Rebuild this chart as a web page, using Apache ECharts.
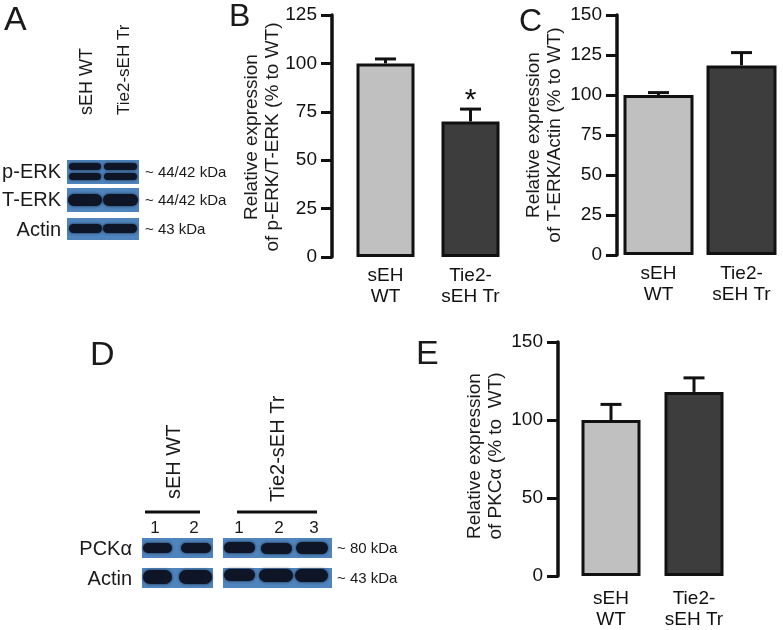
<!DOCTYPE html>
<html><head><meta charset="utf-8">
<script src="https://cdn.jsdelivr.net/npm/echarts@6/dist/echarts.min.js"></script>
<style>html,body{margin:0;padding:0;background:#fff}#c{width:783px;height:630px}</style>
</head><body><div id="c"></div>
<script>
// ---- data ----
const categories = ['sEH\nWT', 'Tie2-\nsEH Tr'];
const pErkMean = [100, 70];
const pErkErr = [2.3, 6.4];
const tErkMean = [100, 118.5];
const tErkErr = [1.5, 8];
const pkcMean = [100, 118];
const pkcErr = [10, 9];
const ticksB = [0, 25, 50, 75, 100, 125];
const ticksC = [0, 25, 50, 75, 100, 125, 150];
const ticksE = [0, 50, 100, 150];
const barColors = ['#c0c0c0', '#3d3d3d'];

const FONT = '"Liberation Sans", Arial, sans-serif';
const chart = echarts.init(document.getElementById('c'), null, {renderer: 'canvas'});

function yAxisCfg(idx, ticks, offset) {
  return {
    type: 'value', gridIndex: idx, min: ticks[0], max: ticks[ticks.length - 1],
    interval: ticks[1] - ticks[0], offset: offset,
    axisLine: {show: true, lineStyle: {color: '#111', width: 3.5}},
    axisTick: {show: true, length: 11, lineStyle: {color: '#111', width: 3}},
    axisLabel: {fontFamily: FONT, fontSize: 19, color: '#111', margin: 15},
    splitLine: {show: false}
  };
}
function xAxisCfg(idx, margin) {
  return {
    type: 'category', gridIndex: idx, data: categories,
    axisLine: {show: false}, axisTick: {show: false},
    axisLabel: {fontFamily: FONT, fontSize: 19, color: '#111', lineHeight: 21, margin: margin, interval: 0}
  };
}
function barSeries(idx, vals, bw) {
  return {
    type: 'bar', xAxisIndex: idx, yAxisIndex: idx, barWidth: bw,
    data: vals.map((v, i) => ({value: v, itemStyle: {color: barColors[i]}})),
    itemStyle: {borderColor: '#111', borderWidth: 3},
    silent: true
  };
}
function errSeries(idx, means, errs, star) {
  return {
    type: 'custom', xAxisIndex: idx, yAxisIndex: idx, z: 5, silent: true,
    data: means.map((m, i) => [i, m, errs[i], star ? star[i] : '']),
    renderItem: function (params, api) {
      const p0 = api.coord([api.value(0), api.value(1)]);
      const p1 = api.coord([api.value(0), api.value(1) + api.value(2)]);
      const st = {stroke: '#111', lineWidth: 3};
      const children = [
        {type: 'line', shape: {x1: p0[0], y1: p0[1], x2: p1[0], y2: p1[1]}, style: st},
        {type: 'line', shape: {x1: p1[0] - 10.5, y1: p1[1], x2: p1[0] + 10.5, y2: p1[1]}, style: st}
      ];
      const s = api.value(3);
      if (s) {
        children.push({type: 'text', x: p1[0], y: p1[1] + 7,
          style: {text: s, fontFamily: FONT, fontSize: 30, fill: '#111', align: 'center', verticalAlign: 'bottom'}});
      }
      return {type: 'group', children: children};
    }
  };
}

// ---- blot helpers (illustration) ----
const BLOT = '#4f84bd';
const BAND = '#0e1526';
const g = [];
function box(x, y, w, h) { g.push({type: 'rect', shape: {x: x, y: y, width: w, height: h}, style: {fill: BLOT}, z: 1}); }
function band(x, y, w, h) {
  g.push({type: 'rect', shape: {x: x, y: y, width: w, height: h, r: h / 2},
    style: {fill: BAND, shadowBlur: 3, shadowColor: 'rgba(10,15,30,0.8)'}, z: 2});
}
function txt(text, x, y, size, align, opts) {
  g.push(Object.assign({type: 'text', x: x, y: y, z: 3,
    style: {text: text, fontFamily: FONT, fontSize: size, fill: '#1a1a1a', align: align || 'left', verticalAlign: 'middle'}}, opts || {}));
}
function vtxt(text, x, yBottom, size) {
  g.push({type: 'text', x: x, y: yBottom, rotation: Math.PI / 2, z: 3,
    style: {text: text, fontFamily: FONT, fontSize: size, fill: '#1a1a1a', align: 'left', verticalAlign: 'middle'}});
}
function title2(l1, l2, cx, cy) {
  g.push({type: 'text', x: cx, y: cy, rotation: Math.PI / 2, z: 3,
    style: {text: l1 + '\n' + l2, fontFamily: FONT, fontSize: 19, lineHeight: 21, fill: '#1a1a1a', align: 'center', verticalAlign: 'middle'}});
}

// Panel letters
txt('A', 4, 21, 34);
txt('B', 229, 17, 32);
txt('C', 519, 22, 32);
txt('D', 90, 356, 34);
txt('E', 416, 355, 34);

// Panel A blot
vtxt('sEH WT', 87, 115, 18);
vtxt('Tie2-sEH Tr', 124, 115, 17);
box(67, 160, 72, 24); box(67, 188, 72, 24); box(67, 218, 72, 22);
band(69, 163, 32, 7); band(104, 163, 33, 7);
band(69, 173, 32, 7); band(104, 173, 33, 7);
band(68, 194, 34, 12); band(103, 194, 35, 12);
band(69, 224, 33, 9); band(103, 224, 34, 9);
txt('p-ERK', 61, 172, 20, 'right');
txt('T-ERK', 61, 200, 20, 'right');
txt('Actin', 61, 230, 20, 'right');
txt('~ 44/42 kDa', 145, 173, 15);
txt('~ 44/42 kDa', 145, 201, 15);
txt('~ 43 kDa', 145, 230, 15);

// Panel D blot
vtxt('sEH WT', 174, 499, 20);
vtxt('Tie2-sEH Tr', 278, 502, 20);
g.push({type: 'line', shape: {x1: 145, y1: 512, x2: 200, y2: 512}, style: {stroke: '#111', lineWidth: 3}});
g.push({type: 'line', shape: {x1: 237, y1: 512, x2: 317, y2: 512}, style: {stroke: '#111', lineWidth: 3}});
txt('1', 155, 528, 17, 'center'); txt('2', 194, 528, 17, 'center');
txt('1', 239, 528, 17, 'center'); txt('2', 279, 528, 17, 'center'); txt('3', 314, 528, 17, 'center');
box(142, 538, 71, 20); box(223, 538, 109, 20);
box(142, 568, 71, 20); box(223, 568, 109, 20);
band(143, 543, 29, 10); band(181, 543, 30, 10);
band(224, 542, 31, 11); band(261, 543, 31, 11); band(296, 542, 32, 12);
band(143, 570, 29, 14); band(179, 570, 33, 14);
band(224, 569, 31, 12); band(259, 569, 34, 13); band(295, 569, 33, 13);
txt('PCKα', 132, 549, 20, 'right');
txt('Actin', 132, 579, 20, 'right');
txt('~ 80 kDa', 337, 549, 15);
txt('~ 43 kDa', 337, 579, 15);

// Axis titles
title2('Relative expression', 'of p-ERK/T-ERK (% to WT)', 262.5, 137);
title2('Relative expression', 'of T-ERK/Actin (% to WT)', 544, 135);
title2('Relative expression', 'of PKCα (% to  WT)', 485, 456);

chart.setOption({
  animation: false,
  backgroundColor: '#fff',
  textStyle: {fontFamily: FONT},
  grid: [
    {left: 343, top: 15, width: 170, height: 242},
    {left: 617, top: 15, width: 186, height: 240},
    {left: 569.5, top: 342, width: 166, height: 240}
  ],
  xAxis: [xAxisCfg(0, 8), xAxisCfg(1, 8), xAxisCfg(2, 12)],
  yAxis: [yAxisCfg(0, ticksB, 11), yAxisCfg(1, ticksC, 0), yAxisCfg(2, ticksE, 11.5)],
  series: [
    barSeries(0, pErkMean, 58), errSeries(0, pErkMean, pErkErr, ['', '*']),
    barSeries(1, tErkMean, 70), errSeries(1, tErkMean, tErkErr),
    barSeries(2, pkcMean, 59), errSeries(2, pkcMean, pkcErr)
  ],
  graphic: g
});
</script></body></html>
